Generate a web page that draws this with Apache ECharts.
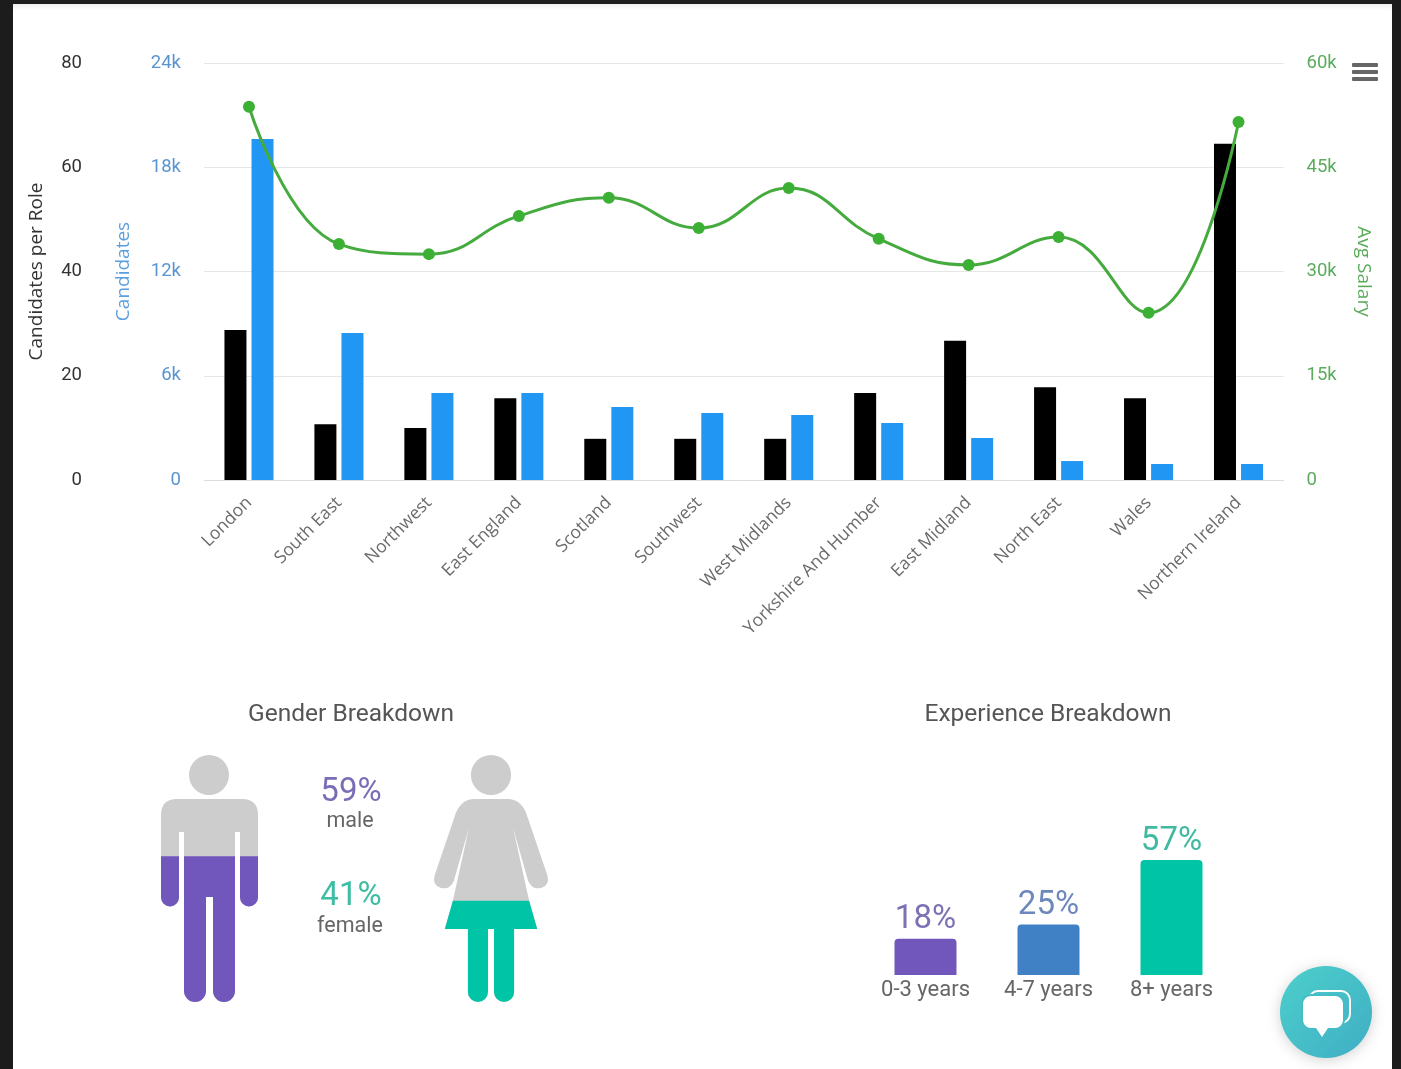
<!DOCTYPE html>
<html>
<head>
<meta charset="utf-8">
<title>Candidates overview</title>
<script src="https://cdn.jsdelivr.net/npm/echarts@6/dist/echarts.min.js"></script>
<style>
html,body{margin:0;padding:0;background:#1c1c1c;overflow:hidden}
#panel{position:absolute;left:13px;top:4px;width:1379px;height:1065px;background:#fff;box-shadow:inset 0 7px 7px -6px rgba(0,0,0,.12)}
#main{position:absolute;left:0;top:0;width:1401px;height:1069px}
</style>
</head>
<body>
<div id="panel"></div>
<div id="main"></div>
<script>
// regions chart
var regions = ['London','South East','Northwest','East England','Scotland','Southwest','West Midlands','Yorkshire And Humber','East Midland','North East','Wales','Northern Ireland'];
var candidatesPerRole = [28.8,10.7,10,15.7,7.9,7.9,7.9,16.7,26.7,17.8,15.7,64.5];
var candidates = [19630,8460,5010,5010,4200,3860,3740,3280,2420,1090,920,920];
var avgSalary = [53700,33950,32500,38000,40600,36250,42000,34700,30950,34950,24050,51500];

// breakdowns
var genderValues = [59,41];
var genderNames = ['male','female'];
var experienceNames = ['0-3 years','4-7 years','8+ years'];
var experienceValues = [18,25,57];

var maleIcon = 'path://M48 0A20 20 0 1 1 48 40A20 20 0 1 1 48 0Z'
    +'M16 44H81Q97 44 97 60V142.5A9 9 0 0 1 79 142.5V77H74V236A11 11 0 0 1 52 236V142H45V236A11 11 0 0 1 23 236V77H18V142.5A9 9 0 0 1 0 142.5V60Q0 44 16 44Z';
var femaleIcon = 'path://M57 0A20 20 0 1 1 57 40A20 20 0 1 1 57 0Z'
    +'M40 44H74Q86 44 92 58L113 120Q116 130 107 133Q98 135 94 126L79 73L95 146L103 174H80V237A10 10 0 0 1 60 237V174H54V237A10 10 0 0 1 34 237V174H11L19 146L35 73L20 126Q16 135 7 133Q-2 130 1 120L22 58Q28 44 40 44Z';

var grey = '#cdcdcd', purple = '#7156bb', teal = '#00c4a6';
var axisFont = 'Open Sans';

function kFormat(v){ return v === 0 ? '0' : (v/1000)+'k'; }

var chart = echarts.init(document.getElementById('main'));
chart.setOption({
    animation: false,
    textStyle: {fontFamily: 'Roboto'},
    title: [
        {text:'Gender Breakdown',left:346,top:697,textAlign:'center',textStyle:{fontFamily:'Roboto',fontSize:24.5,fontWeight:'normal',color:'#555'}},
        {text:'Experience Breakdown',left:1043,top:697,textAlign:'center',textStyle:{fontFamily:'Roboto',fontSize:24.5,fontWeight:'normal',color:'#555'}},
        {text:genderValues[0]+'%',left:346,top:771,textAlign:'center',textStyle:{fontFamily:'Roboto',fontSize:33,fontWeight:'normal',color:'#7a6cb6'}},
        {text:genderNames[0],left:345,top:806,textAlign:'center',textStyle:{fontFamily:'Roboto',fontSize:21.5,fontWeight:'normal',color:'#666'}},
        {text:genderValues[1]+'%',left:346,top:875,textAlign:'center',textStyle:{fontFamily:'Roboto',fontSize:33,fontWeight:'normal',color:'#3dbda3'}},
        {text:genderNames[1],left:345,top:911,textAlign:'center',textStyle:{fontFamily:'Roboto',fontSize:21.5,fontWeight:'normal',color:'#666'}}
    ],
    grid: [
        {left:204,top:63,width:1079.5,height:417},
        {left:161,top:755,width:97,height:247},
        {left:434,top:755,width:114,height:247},
        {left:864,top:854,width:369,height:121}
    ],
    xAxis: [
        {
            type:'category',data:regions,gridIndex:0,
            axisTick:{show:false},
            axisLine:{lineStyle:{color:'#dcdcdc'}},
            axisLabel:{rotate:45,interval:0,margin:20,fontFamily:axisFont,fontSize:17.5,color:'#6b6b6b'}
        },
        {type:'category',data:[genderNames[0]],gridIndex:1,show:false},
        {type:'category',data:[genderNames[1]],gridIndex:2,show:false},
        {
            type:'category',data:experienceNames,gridIndex:3,
            axisTick:{show:false},
            axisLine:{show:false},
            axisLabel:{margin:4,fontFamily:'Roboto',fontSize:22,color:'#666'}
        }
    ],
    yAxis: [
        {
            type:'value',gridIndex:0,min:0,max:80,interval:20,position:'left',offset:99,
            name:'Candidates per Role',nameLocation:'middle',nameGap:59,
            nameTextStyle:{fontFamily:axisFont,fontSize:19,color:'#333'},
            axisLine:{show:false},axisTick:{show:false},
            axisLabel:{margin:23,fontFamily:'Roboto',fontSize:18.5,color:'#333'},
            splitLine:{show:false}
        },
        {
            type:'value',gridIndex:0,min:0,max:24000,interval:6000,position:'left',
            name:'Candidates',nameLocation:'middle',nameGap:71,
            nameTextStyle:{fontFamily:axisFont,fontSize:19,color:'#5a9fe0'},
            axisLine:{show:false},axisTick:{show:false},
            axisLabel:{margin:23,fontFamily:'Roboto',fontSize:18.5,color:'#5a94d0',formatter:kFormat},
            splitLine:{lineStyle:{color:'#e6e6e6'}}
        },
        {
            type:'value',gridIndex:0,min:0,max:60000,interval:15000,position:'right',
            name:'Avg Salary',nameLocation:'middle',nameGap:70,nameRotate:-90,
            nameTextStyle:{fontFamily:axisFont,fontSize:19,color:'#5cab5c'},
            axisLine:{show:false},axisTick:{show:false},
            axisLabel:{margin:23,fontFamily:'Roboto',fontSize:18.5,color:'#5cab5c',formatter:kFormat},
            splitLine:{show:false}
        },
        {type:'value',gridIndex:1,min:0,max:100,show:false},
        {type:'value',gridIndex:2,min:0,max:100,show:false},
        {type:'value',gridIndex:3,min:0,max:60,show:false}
    ],
    series: [
        {
            name:'Candidates per Role',type:'bar',xAxisIndex:0,yAxisIndex:0,
            data:candidatesPerRole,barWidth:22,barGap:'23%',
            itemStyle:{color:'#000'}
        },
        {
            name:'Candidates',type:'bar',xAxisIndex:0,yAxisIndex:1,
            data:candidates,barWidth:22,barGap:'23%',
            itemStyle:{color:'#2196f3'}
        },
        {
            name:'Avg Salary',type:'line',xAxisIndex:0,yAxisIndex:2,
            data:avgSalary,smooth:0.45,symbol:'circle',symbolSize:12,z:5,
            lineStyle:{color:'#45ab3e',width:3},
            itemStyle:{color:'#3cb034'}
        },
        // grey figures, full height
        {
            type:'pictorialBar',xAxisIndex:1,yAxisIndex:3,
            symbol:maleIcon,symbolSize:[97,'100%'],symbolBoundingData:100,
            data:[100],itemStyle:{color:grey},z:2
        },
        {
            type:'pictorialBar',xAxisIndex:2,yAxisIndex:4,
            symbol:femaleIcon,symbolSize:[114,'100%'],symbolBoundingData:100,
            data:[100],itemStyle:{color:grey},z:2
        },
        // coloured part, clipped to the percentage
        {
            type:'pictorialBar',xAxisIndex:1,yAxisIndex:3,
            symbol:maleIcon,symbolSize:[97,'100%'],symbolBoundingData:100,symbolClip:true,
            data:[genderValues[0]],itemStyle:{color:purple},z:3
        },
        {
            type:'pictorialBar',xAxisIndex:2,yAxisIndex:4,
            symbol:femaleIcon,symbolSize:[114,'100%'],symbolBoundingData:100,symbolClip:true,
            data:[genderValues[1]],itemStyle:{color:teal},z:3
        },
        {
            type:'bar',xAxisIndex:3,yAxisIndex:5,barWidth:62,
            data:[
                {value:experienceValues[0],itemStyle:{color:'#7156bb'},label:{color:'#7a72b4'}},
                {value:experienceValues[1],itemStyle:{color:'#4080c4'},label:{color:'#6c88bc'}},
                {value:experienceValues[2],itemStyle:{color:'#00c4a6'},label:{color:'#3fb9a0'}}
            ],
            itemStyle:{borderRadius:[4,4,0,0]},
            label:{show:true,position:'top',distance:2,formatter:'{c}%',fontFamily:'Roboto',fontSize:33,fontWeight:'normal'}
        }
    ],
    graphic: [
        // menu icon
        {type:'rect',shape:{x:1352,y:63,width:26,height:4,r:1},style:{fill:'#666'}},
        {type:'rect',shape:{x:1352,y:70,width:26,height:4,r:1},style:{fill:'#666'}},
        {type:'rect',shape:{x:1352,y:77,width:26,height:4,r:1},style:{fill:'#666'}},
        // chat button
        {
            type:'circle',shape:{cx:1326,cy:1012,r:46},z:10,
            style:{
                fill:new echarts.graphic.LinearGradient(0,0,1,1,[{offset:0,color:'#4ccfcb'},{offset:1,color:'#40aec4'}]),
                shadowBlur:14,shadowColor:'rgba(0,0,0,.18)',shadowOffsetY:2
            }
        },
        {type:'rect',z:11,shape:{x:1309,y:991,width:41,height:32,r:9},style:{fill:'none',stroke:'#fff',lineWidth:2}},
        {type:'rect',z:12,shape:{x:1302,y:995,width:42,height:34,r:9},style:{fill:'#fff',stroke:'#45bcc8',lineWidth:2}},
        {type:'polygon',z:12,shape:{points:[[1316,1028],[1328,1028],[1322,1037]]},style:{fill:'#fff'}}
    ]
});
</script>
</body>
</html>
